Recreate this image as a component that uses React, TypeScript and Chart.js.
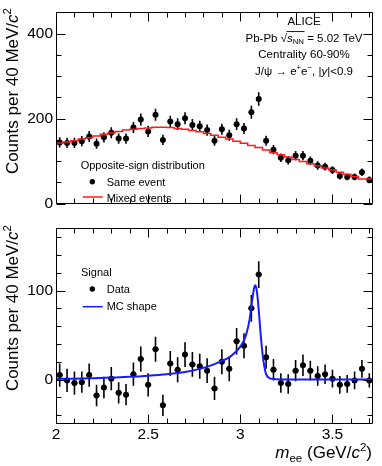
import React, { useEffect, useRef } from 'react';
import { Chart, registerables } from 'chart.js';

Chart.register(...registerables);

const FAMILY = '"Liberation Sans", Arial, Helvetica, sans-serif';

// Bin centres (GeV/c^2), 40 MeV bins
const massBins = [
  2.02, 2.06, 2.1, 2.14, 2.18, 2.22, 2.26, 2.3, 2.34, 2.38, 2.42, 2.46, 2.5, 2.54, 2.58,
  2.62, 2.66, 2.7, 2.74, 2.78, 2.82, 2.86, 2.9, 2.94, 2.98, 3.02, 3.06, 3.1, 3.14, 3.18,
  3.22, 3.26, 3.3, 3.34, 3.38, 3.42, 3.46, 3.5, 3.54, 3.58, 3.62, 3.66, 3.7,
];
const binWidth = 0.04;

// Top panel: same event (points) and mixed events (histogram)
const sameEvent = [
  144, 143, 143, 147, 158, 141, 156, 167, 153, 153, 179, 198, 170, 209, 150,
  193, 187, 201, 185, 182, 173, 148, 175, 161, 187, 177, 215, 246, 148, 127,
  108, 102, 113, 113, 101, 90, 87, 79, 65, 63, 63, 74, 56,
];
const sameEventErr = [
  12, 12, 12, 12, 13, 12, 12, 13, 12, 12, 13, 14, 13, 14, 12,
  14, 14, 14, 14, 13, 13, 12, 13, 13, 14, 13, 15, 16, 12, 11,
  10, 10, 11, 11, 10, 10, 9, 9, 8, 8, 8, 9, 8,
];
const mixedEvents = [
  141, 143, 145, 148, 152, 155, 159, 163, 166, 170, 173, 175, 177, 178, 180,
  180, 179, 177, 175, 172, 169, 165, 161, 156, 152, 147, 142, 137, 132, 126,
  120, 115, 110, 104, 99, 94, 89, 84, 79, 74, 69, 64, 58,
];

// Bottom panel: signal (same - mixed) and MC shape
const signal = [
  5, -1, -4, -3, 5, -18, -9, 1, -15, -17, 6, 23, -6, 34, -29,
  18, 11, 28, 17, 15, 10, -10, 20, 12, 43, 38, 80, 118, 25, 11,
  -4, -5, 10, 16, 10, 4, 6, 1, -6, -5, -1, 12, -1,
];
const signalErr = [
  13, 13, 13, 12, 13, 12, 12, 13, 12, 12, 13, 14, 13, 14, 12,
  14, 14, 14, 14, 14, 14, 13, 14, 14, 15, 14, 15, 15, 13, 12,
  11, 11, 12, 12, 11, 11, 11, 10, 10, 10, 10, 10, 8,
];
const mcMass = [
  2.0, 2.1, 2.2, 2.3, 2.4, 2.5, 2.6, 2.7, 2.78, 2.85, 2.9, 2.94, 2.97, 3.0, 3.02,
  3.035, 3.05, 3.065, 3.075, 3.082, 3.09, 3.1, 3.11, 3.12, 3.13, 3.14, 3.155, 3.18, 3.25, 3.72,
];
const mcShape = [
  0.5, 1, 1.5, 2.2, 3, 4.3, 6, 8.5, 12, 16.5, 21, 25, 30, 37, 44,
  53, 67, 90, 103, 106, 99, 78, 52, 30, 15, 6, 2, 0.5, 0, 0,
];

// Axis ticks
const xTickLabels = [2, 2.5, 3, 3.5];
const xMinorTicks = [2.1, 2.2, 2.3, 2.4, 2.6, 2.7, 2.8, 2.9, 3.1, 3.2, 3.3, 3.4, 3.6, 3.7];
const topYTicks = [0, 200, 400];
const topYMinor = [50, 100, 150, 250, 300, 350];
const botYTicks = [0, 100];
const botYMinor = [-40, -20, 20, 40, 60, 80, 120, 140, 160];

type Run = { t: string; it?: boolean; sub?: boolean; sup?: boolean; ov?: boolean };

function drawRuns(
  ctx: CanvasRenderingContext2D,
  runs: Run[],
  x: number,
  y: number,
  size: number,
  align: 'left' | 'center' | 'right'
) {
  const parts = runs.map((r) => {
    const fs = r.sub || r.sup ? size * 0.68 : size;
    const font = `${r.it ? 'italic ' : ''}${fs}px ${FAMILY}`;
    ctx.font = font;
    return { r, font, w: ctx.measureText(r.t).width };
  });
  const total = parts.reduce((s, p) => s + p.w, 0);
  let cx = align === 'left' ? x : align === 'center' ? x - total / 2 : x - total;
  ctx.textAlign = 'left';
  ctx.textBaseline = 'alphabetic';
  for (const p of parts) {
    ctx.font = p.font;
    const dy = p.r.sub ? size * 0.22 : p.r.sup ? -size * 0.4 : 0;
    ctx.fillText(p.r.t, cx, y + dy);
    if (p.r.ov) ctx.fillRect(cx - 0.5, y - size * 0.9, p.w + 1, 0.9);
    cx += p.w;
  }
}

const yTitle: Run[] = [{ t: 'Counts per 40 MeV/' }, { t: 'c', it: true }, { t: '2', sup: true }];
const xTitle: Run[] = [
  { t: 'm', it: true },
  { t: 'ee', sub: true },
  { t: ' (GeV/' },
  { t: 'c', it: true },
  { t: '2', sup: true },
  { t: ')' },
];

function frameTicks(yMajor: number[], yMinor: number[]) {
  return {
    id: 'frameTicks',
    afterDraw(chart: any) {
      const { ctx, chartArea: a, scales } = chart;
      const xs = scales.x;
      const ys = scales.y;
      ctx.save();
      ctx.strokeStyle = '#000';
      ctx.lineWidth = 1;
      ctx.beginPath();
      const L = Math.round(a.left) + 0.5;
      const R = Math.round(a.right) - 0.5;
      const T = Math.round(a.top) + 0.5;
      const B = Math.round(a.bottom) - 0.5;
      ctx.rect(L, T, R - L, B - T);
      const yt = (v: number, len: number) => {
        const py = Math.round(ys.getPixelForValue(v)) + 0.5;
        ctx.moveTo(L, py);
        ctx.lineTo(L + len, py);
        ctx.moveTo(R, py);
        ctx.lineTo(R - len, py);
      };
      const xt = (v: number, len: number) => {
        const px = Math.round(xs.getPixelForValue(v)) + 0.5;
        ctx.moveTo(px, B);
        ctx.lineTo(px, B - len);
        ctx.moveTo(px, T);
        ctx.lineTo(px, T + len);
      };
      yMajor.forEach((v) => yt(v, 9));
      yMinor.forEach((v) => yt(v, 5));
      xTickLabels.forEach((v) => xt(v, 9));
      xMinorTicks.forEach((v) => xt(v, 5));
      ctx.stroke();
      ctx.restore();
    },
  };
}

const errorBars = {
  id: 'errorBars',
  beforeDatasetsDraw(chart: any) {
    const { ctx, chartArea: a, scales } = chart;
    const xs = scales.x;
    const ys = scales.y;
    ctx.save();
    ctx.beginPath();
    ctx.rect(a.left, a.top, a.right - a.left, a.bottom - a.top);
    ctx.clip();
    chart.data.datasets.forEach((ds: any) => {
      if (!ds.errors) return;
      ctx.strokeStyle = '#000';
      ctx.lineWidth = 1.6;
      ctx.beginPath();
      ds.data.forEach((p: any, i: number) => {
        const px = xs.getPixelForValue(p.x);
        const py = ys.getPixelForValue(p.y);
        ctx.moveTo(px, ys.getPixelForValue(p.y - ds.errors[i]));
        ctx.lineTo(px, ys.getPixelForValue(p.y + ds.errors[i]));
        if (ds.xErr) {
          ctx.moveTo(xs.getPixelForValue(p.x - ds.xErr), py);
          ctx.lineTo(xs.getPixelForValue(p.x + ds.xErr), py);
        }
      });
      ctx.stroke();
    });
    ctx.restore();
  },
};

function textPlugin(draw: (ctx: CanvasRenderingContext2D) => void) {
  return {
    id: 'texts',
    afterDraw(chart: any) {
      const ctx = chart.ctx as CanvasRenderingContext2D;
      ctx.save();
      ctx.fillStyle = '#000';
      draw(ctx);
      ctx.restore();
    },
  };
}

const TOP_H = 216;
const BOT_H = 250;

export default function App() {
  const topRef = useRef<HTMLCanvasElement>(null);
  const botRef = useRef<HTMLCanvasElement>(null);

  useEffect(() => {
    const mixedSteps = massBins.map((m, i) => ({ x: m - binWidth / 2, y: mixedEvents[i] }));
    mixedSteps.push({
      x: massBins[massBins.length - 1] + binWidth / 2,
      y: mixedEvents[mixedEvents.length - 1],
    });
    const sameData = massBins.map((m, i) => ({ x: m, y: sameEvent[i] }));
    const sigData = massBins.map((m, i) => ({ x: m, y: signal[i] }));
    const mcData = mcMass.map((m, i) => ({ x: m, y: mcShape[i] }));

    const tickFont = { family: FAMILY, size: 15.5 };

    const top = new Chart(topRef.current as HTMLCanvasElement, {
      type: 'line',
      data: {
        datasets: [
          {
            label: 'Mixed events',
            data: mixedSteps,
            stepped: 'after',
            borderColor: '#ff1a1a',
            borderWidth: 1.5,
            pointRadius: 0,
            fill: false,
          } as any,
          {
            label: 'Same event',
            data: sameData,
            showLine: false,
            pointRadius: 3,
            pointBackgroundColor: '#000',
            pointBorderColor: '#000',
            pointBorderWidth: 0,
            errors: sameEventErr,
          } as any,
        ],
      },
      options: {
        animation: false,
        responsive: false,
        maintainAspectRatio: false,
        layout: { padding: { top: 6, right: 9, bottom: 6, left: 0 } },
        plugins: { legend: { display: false }, tooltip: { enabled: false } },
        scales: {
          x: { type: 'linear', min: 2, max: 3.72, display: false },
          y: {
            type: 'linear',
            min: 0,
            max: 450,
            grid: { display: false, drawTicks: false },
            border: { display: false },
            ticks: { font: tickFont, color: '#000', padding: 3 },
            afterBuildTicks: (s: any) => {
              s.ticks = topYTicks.map((v) => ({ value: v }));
            },
            afterFit: (s: any) => {
              s.width = 56;
            },
          },
        },
      } as any,
      plugins: [
        errorBars,
        frameTicks(topYTicks, topYMinor),
        textPlugin((ctx) => {
          ctx.save();
          ctx.translate(17.5, 8);
          ctx.rotate(-Math.PI / 2);
          drawRuns(ctx, yTitle, 0, 0, 17, 'right');
          ctx.restore();

          const cx = 304;
          drawRuns(ctx, [{ t: 'ALICE' }], cx, 25, 11.5, 'center');
          drawRuns(
            ctx,
            [
              { t: 'Pb-Pb ' },
              { t: '√' },
              { t: 's', it: true, ov: true },
              { t: 'NN', sub: true, ov: true },
              { t: ' = 5.02 TeV' },
            ],
            cx,
            41.5,
            11.5,
            'center'
          );
          drawRuns(ctx, [{ t: 'Centrality 60-90%' }], cx, 58, 11.5, 'center');
          drawRuns(
            ctx,
            [
              { t: 'J/ψ → e' },
              { t: '+', sup: true },
              { t: 'e' },
              { t: '−', sup: true },
              { t: ', |' },
              { t: 'y', it: true },
              { t: '|<0.9' },
            ],
            cx,
            74.5,
            11.5,
            'center'
          );

          drawRuns(ctx, [{ t: 'Opposite-sign distribution' }], 80.7, 169, 11, 'left');
          ctx.beginPath();
          ctx.arc(92.3, 181.7, 2.7, 0, Math.PI * 2);
          ctx.fill();
          drawRuns(ctx, [{ t: 'Same event' }], 106.7, 186, 11, 'left');
          ctx.strokeStyle = '#ff1a1a';
          ctx.lineWidth = 1.5;
          ctx.beginPath();
          ctx.moveTo(82.7, 197);
          ctx.lineTo(102.7, 197);
          ctx.stroke();
          drawRuns(ctx, [{ t: 'Mixed events' }], 106.7, 202, 11, 'left');
        }),
      ],
    });

    const off = TOP_H;
    const bot = new Chart(botRef.current as HTMLCanvasElement, {
      type: 'line',
      data: {
        datasets: [
          {
            label: 'MC shape',
            data: mcData,
            borderColor: '#1a1aff',
            borderWidth: 2,
            pointRadius: 0,
            fill: false,
            cubicInterpolationMode: 'monotone',
          } as any,
          {
            label: 'Data',
            data: sigData,
            showLine: false,
            pointRadius: 3,
            pointBackgroundColor: '#000',
            pointBorderColor: '#000',
            pointBorderWidth: 0,
            errors: signalErr,
            xErr: binWidth * 0.4,
          } as any,
        ],
      },
      options: {
        animation: false,
        responsive: false,
        maintainAspectRatio: false,
        layout: { padding: { top: 6, right: 9, bottom: 0, left: 0 } },
        plugins: { legend: { display: false }, tooltip: { enabled: false } },
        scales: {
          x: {
            type: 'linear',
            min: 2,
            max: 3.72,
            grid: { display: false, drawTicks: false },
            border: { display: false },
            ticks: {
              font: tickFont,
              color: '#000',
              padding: 1,
              maxRotation: 0,
              autoSkip: false,
              callback: (v: any) => String(v),
            },
            afterBuildTicks: (s: any) => {
              s.ticks = xTickLabels.map((v) => ({ value: v }));
            },
            afterFit: (s: any) => {
              s.height = 42;
            },
          },
          y: {
            type: 'linear',
            min: -50,
            max: 170,
            grid: { display: false, drawTicks: false },
            border: { display: false },
            ticks: { font: tickFont, color: '#000', padding: 3 },
            afterBuildTicks: (s: any) => {
              s.ticks = botYTicks.map((v) => ({ value: v }));
            },
            afterFit: (s: any) => {
              s.width = 56;
            },
          },
        },
      } as any,
      plugins: [
        errorBars,
        frameTicks(botYTicks, botYMinor),
        textPlugin((ctx) => {
          ctx.save();
          ctx.translate(17.5, 225 - off);
          ctx.rotate(-Math.PI / 2);
          drawRuns(ctx, yTitle, 0, 0, 17, 'right');
          ctx.restore();

          drawRuns(ctx, xTitle, 372, 458 - off, 17, 'right');

          drawRuns(ctx, [{ t: 'Signal' }], 81, 276 - off, 11, 'left');
          ctx.beginPath();
          ctx.arc(92.3, 289 - off, 2.7, 0, Math.PI * 2);
          ctx.fill();
          drawRuns(ctx, [{ t: 'Data' }], 106.7, 293 - off, 11, 'left');
          ctx.strokeStyle = '#1a1aff';
          ctx.lineWidth = 1.5;
          ctx.beginPath();
          ctx.moveTo(82.7, 306.7 - off);
          ctx.lineTo(102.7, 306.7 - off);
          ctx.stroke();
          drawRuns(ctx, [{ t: 'MC shape' }], 106.7, 310 - off, 11, 'left');
        }),
      ],
    });

    return () => {
      top.destroy();
      bot.destroy();
    };
  }, []);

  return (
    <div style={{ position: 'fixed', left: 0, top: 0, width: 382, height: 466, background: '#fff' }}>
      <canvas
        ref={topRef}
        width={382}
        height={TOP_H}
        style={{ position: 'absolute', left: 0, top: 0, width: 382, height: TOP_H }}
      />
      <canvas
        ref={botRef}
        width={382}
        height={BOT_H}
        style={{ position: 'absolute', left: 0, top: TOP_H, width: 382, height: BOT_H }}
      />
    </div>
  );
}
